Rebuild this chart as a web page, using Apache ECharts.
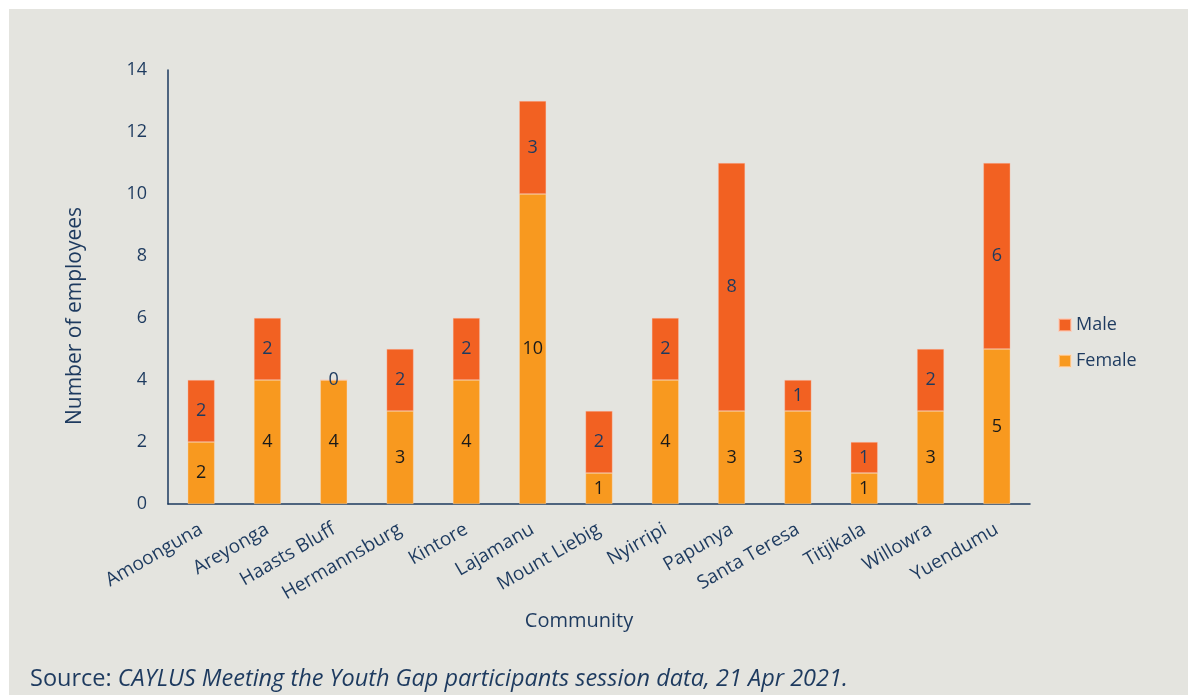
<!DOCTYPE html>
<html>
<head>
<meta charset="utf-8">
<script src="https://cdn.jsdelivr.net/npm/echarts@6/dist/echarts.min.js"></script>
<style>
  html, body { margin: 0; padding: 0; background: #ffffff; width: 1188px; height: 695px; overflow: hidden; }
  #chart { position: absolute; left: 9px; top: 9px; width: 1179px; height: 686px; background: #e4e4df; }
</style>
</head>
<body>
<div id="chart"></div>
<script>
// Employees by community, split by gender
const communities = ['Amoonguna', 'Areyonga', 'Haasts Bluff', 'Hermannsburg', 'Kintore', 'Lajamanu',
  'Mount Liebig', 'Nyirripi', 'Papunya', 'Santa Teresa', 'Titjikala', 'Willowra', 'Yuendumu'];
const female = [2, 4, 4, 3, 4, 10, 1, 4, 3, 3, 1, 3, 5];
const male = [2, 2, 0, 2, 2, 3, 2, 2, 8, 1, 1, 2, 6];
const yTicks = [0, 2, 4, 6, 8, 10, 12, 14];

const navy = '#1d3a5f';
const font = '"Open Sans", "Noto Sans", sans-serif';

const chart = echarts.init(document.getElementById('chart'), null, { renderer: 'canvas' });
chart.setOption({
  backgroundColor: '#e4e4df',
  animation: false,
  textStyle: { fontFamily: font },
  title: [
    {
      text: 'Community',
      left: 565, top: 597,
      textAlign: 'center',
      textStyle: { fontFamily: font, fontSize: 20, fontWeight: 'normal', color: navy }
    },
    {
      text: '{n|Source: }{i|CAYLUS Meeting the Youth Gap participants session data, 21 Apr 2021.}',
      left: 16, top: 653,
      textStyle: {
        fontWeight: 'normal',
        rich: {
          n: { fontFamily: font, fontSize: 23.5, fontWeight: 'normal', color: navy },
          i: { fontFamily: font, fontSize: 23.5, fontWeight: 'normal', fontStyle: 'italic', color: navy }
        }
      }
    }
  ],
  legend: {
    orient: 'vertical',
    left: 1044, top: 302,
    itemWidth: 12, itemHeight: 12, itemGap: 18,
    icon: 'rect',
    data: ['Male', 'Female'],
    textStyle: { fontFamily: font, fontSize: 18, color: navy }
  },
  grid: { left: 159, right: 158, top: 61, bottom: 191, containLabel: false },
  xAxis: {
    type: 'category',
    data: communities,
    axisLine: { lineStyle: { color: navy, width: 1.5 } },
    axisTick: { show: false },
    axisLabel: { rotate: 30, fontFamily: font, fontSize: 19, color: navy, margin: 24, interval: 0 }
  },
  yAxis: {
    type: 'value',
    min: yTicks[0], max: yTicks[yTicks.length - 1], interval: 2,
    name: 'Number of employees',
    nameLocation: 'middle',
    nameGap: 82,
    nameTextStyle: { fontFamily: font, fontSize: 21, color: navy, padding: [0, 58, 0, 0] },
    axisLine: { show: true, lineStyle: { color: navy, width: 1.5 } },
    axisTick: { show: false },
    splitLine: { show: false },
    axisLabel: { fontFamily: font, fontSize: 18, color: navy, margin: 21 }
  },
  series: [
    {
      name: 'Female',
      type: 'bar',
      stack: 'total',
      data: female,
      barWidth: 27,
      itemStyle: { color: '#f8991f', borderColor: 'rgba(255,220,190,0.6)', borderWidth: 0.6 },
      label: { show: true, position: 'inside', fontFamily: font, fontSize: 18, color: '#1a1a1a' }
    },
    {
      name: 'Male',
      type: 'bar',
      stack: 'total',
      data: male,
      barWidth: 27,
      itemStyle: { color: '#f26122', borderColor: 'rgba(255,200,180,0.6)', borderWidth: 0.6 },
      label: { show: true, position: 'inside', fontFamily: font, fontSize: 18, color: navy }
    }
  ]
});
</script>
</body>
</html>
